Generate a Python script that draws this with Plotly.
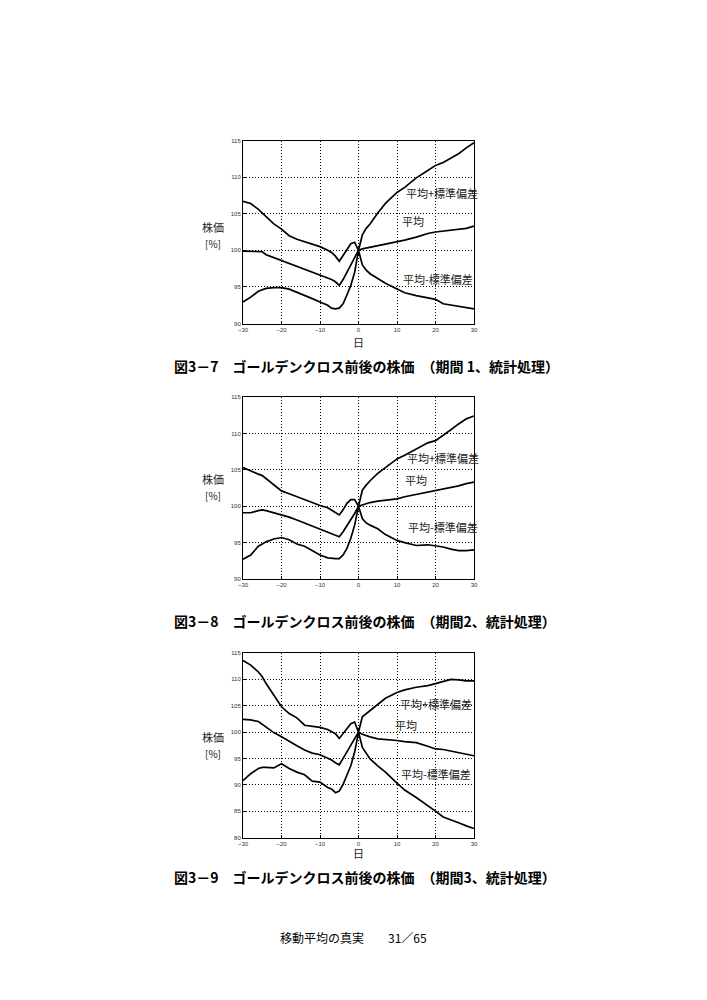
import plotly.graph_objects as go

# Days relative to the golden cross
days = [-30, -28, -26, -25, -24, -22, -20, -18, -16, -14, -12, -10, -8, -7, -6, -5, -4, -3, -2, -1,
        0, 1, 2, 3, 5, 7, 10, 12, 15, 18, 20, 22, 24, 26, 28, 30]

# Period 1 (図3-7)
p1_plus = [106.7, 106.4, 105.6, 105.1, 104.5, 103.6, 102.9, 102.0, 101.5, 101.2, 100.9, 100.5, 100.0, 99.7, 99.2, 98.5, 99.3, 100.2, 100.9, 101.1,
           100.0, 102.1, 103.0, 103.6, 105.1, 106.4, 107.9, 108.6, 109.9, 110.9, 111.6, 112.0, 112.6, 113.2, 114.0, 114.7]
p1_mean = [99.9, 99.9, 99.9, 99.8, 99.4, 99.0, 98.7, 98.3, 97.9, 97.5, 97.0, 96.7, 96.2, 96.0, 95.7, 95.2, 96.0, 97.0, 98.0, 99.0,
           100.0, 100.2, 100.3, 100.4, 100.7, 100.9, 101.2, 101.4, 101.8, 102.3, 102.5, 102.6, 102.7, 102.8, 103.0, 103.3]
p1_minus = [92.95, 93.6, 94.4, 94.6, 94.8, 94.9, 94.9, 94.7, 94.3, 93.9, 93.4, 92.95, 92.5, 92.1, 92.0, 92.1, 92.7, 93.9, 95.2, 97.0,
            100.0, 98.0, 97.3, 96.8, 96.1, 95.5, 94.7, 94.2, 93.8, 93.5, 93.3, 92.7, 92.5, 92.4, 92.1, 92.0]

# Period 2 (図3-8)
p2_plus = [105.3, 104.8, 104.4, 104.2, 103.8, 102.9, 102.1, 101.7, 101.3, 100.8, 100.5, 100.1, 99.8, 99.5, 99.1, 98.8, 99.5, 100.4, 100.9, 100.9,
           100.0, 102.2, 102.9, 103.5, 104.5, 105.3, 106.5, 107.0, 107.9, 108.7, 109.0, 109.7, 110.5, 111.3, 112.0, 112.4]
p2_mean = [99.1, 99.1, 99.4, 99.5, 99.4, 99.1, 98.9, 98.5, 98.1, 97.7, 97.2, 96.8, 96.4, 96.2, 96.1, 95.8, 96.5, 97.3, 98.1, 99.0,
           100.0, 100.2, 100.4, 100.5, 100.7, 100.8, 101.0, 101.3, 101.6, 102.0, 102.2, 102.4, 102.6, 102.8, 103.1, 103.3]
p2_minus = [92.7, 93.3, 94.5, 94.8, 95.1, 95.5, 95.7, 95.4, 94.8, 94.5, 93.9, 93.3, 92.9, 92.8, 92.8, 92.8, 93.3, 94.2, 95.6, 97.4,
            100.0, 98.3, 97.7, 97.4, 96.9, 96.1, 95.3, 95.0, 94.6, 94.7, 94.6, 94.4, 94.1, 93.9, 93.9, 94.0]

# Period 3 (図3-9)
p3_plus = [113.6, 112.7, 111.4, 110.5, 109.2, 107.0, 104.8, 103.5, 102.7, 101.3, 101.1, 100.9, 100.5, 100.1, 99.7, 98.8, 99.7, 100.8, 101.6, 101.9,
           100.0, 102.9, 103.5, 104.1, 105.3, 106.4, 107.5, 108.0, 108.5, 108.8, 109.2, 109.6, 110.0, 109.9, 109.7, 109.7]
p3_mean = [102.4, 102.3, 102.0, 101.5, 100.9, 99.9, 99.1, 98.2, 97.4, 96.6, 96.0, 95.7, 95.1, 94.7, 94.2, 93.8, 95.0, 96.3, 97.5, 98.8,
           100.0, 99.6, 99.3, 99.1, 98.7, 98.6, 98.4, 98.2, 98.0, 97.3, 96.8, 96.7, 96.4, 96.1, 95.8, 95.5]
p3_minus = [90.8, 92.1, 93.1, 93.3, 93.3, 93.2, 94.0, 93.1, 92.4, 91.9, 90.7, 90.5, 89.5, 89.2, 88.5, 88.8, 90.1, 91.7, 93.6, 96.2,
            100.0, 97.1, 95.9, 94.9, 93.6, 92.4, 90.3, 89.0, 87.6, 86.1, 85.0, 83.9, 83.4, 82.8, 82.2, 81.7]

x_ticks = [-30, -20, -10, 0, 10, 20, 30]
label_plus = "平均+標準偏差"
label_mean = "平均"
label_minus = "平均-標準偏差"
captions = [
    "図3－7　ゴールデンクロス前後の株価　（期間 1、統計処理）",
    "図3－8　ゴールデンクロス前後の株価　（期間2、統計処理）",
    "図3－9　ゴールデンクロス前後の株価　（期間3、統計処理）",
]
footer = "移動平均の真実　　31／65"

W, H = 707, 1000
PAGE_OFFSET = 8  # the page body margin shifts the figure by this many pixels
jp_font = "Noto Sans CJK JP"


def px_x(p):
    return (p - PAGE_OFFSET) / W


def px_y(p):
    return 1 - (p - PAGE_OFFSET) / H


def note(x, y, text, size, color="#222222", xanchor="center"):
    return dict(x=px_x(x), y=px_y(y), xref="paper", yref="paper", text=text,
                xanchor=xanchor, yanchor="middle", showarrow=False,
                font=dict(family=jp_font, size=size, color=color))


# plot boxes in page pixels: (top, bottom) and y range
panels = [
    dict(top=140.5, bottom=323.5, yr=[90, 115], series=[p1_plus, p1_mean, p1_minus],
         labels=[(442, 193), (413, 221), (438, 279)], ylab=(227, 243), xlab=342, cap=366),
    dict(top=397, bottom=579, yr=[90, 115], series=[p2_plus, p2_mean, p2_minus],
         labels=[(443, 458), (416, 480), (443, 527)], ylab=(479, 495), xlab=None, cap=621),
    dict(top=653, bottom=837.5, yr=[80, 115], series=[p3_plus, p3_mean, p3_minus],
         labels=[(436, 704), (406, 725), (436, 774)], ylab=(737, 753), xlab=853, cap=877),
]
left_px, right_px = 243, 474

fig = go.Figure()
annotations = []
layout_axes = {}

for i, p in enumerate(panels, start=1):
    sfx = "" if i == 1 else str(i)
    for s in p["series"]:
        fig.add_trace(go.Scatter(
            x=days, y=s, mode="lines",
            line=dict(color="black", width=1.7),
            xaxis="x" + sfx, yaxis="y" + sfx,
            showlegend=False, hoverinfo="skip",
        ))
    axis_common = dict(
        showline=True, mirror=True, linecolor="black", linewidth=1,
        showgrid=True, gridcolor="black", gridwidth=1, griddash="1px,2px",
        zeroline=False, ticks="inside", ticklen=3, tickcolor="black",
        tickfont=dict(family="Liberation Sans", size=6, color="#333333"),
        automargin=False,
    )
    layout_axes["xaxis" + sfx] = dict(
        axis_common, domain=[px_x(left_px), px_x(right_px)], range=[-30, 30],
        tickvals=x_ticks, anchor="y" + sfx,
    )
    layout_axes["yaxis" + sfx] = dict(
        axis_common, domain=[px_y(p["bottom"]), px_y(p["top"])], range=p["yr"],
        tickvals=list(range(p["yr"][0], p["yr"][1] + 1, 5)), anchor="x" + sfx,
    )
    for text, (lx, ly) in zip([label_plus, label_mean, label_minus], p["labels"]):
        annotations.append(note(lx, ly, text, 11))
    annotations.append(note(213, p["ylab"][0], "株価", 11))
    annotations.append(note(213, p["ylab"][1], "[%]", 10))
    if p["xlab"] is not None:
        annotations.append(note(358, p["xlab"], "日", 11))
    annotations.append(note(172, p["cap"], "<b>" + captions[i - 1] + "</b>", 14,
                            color="black", xanchor="left"))

annotations.append(note(353, 937, footer, 12, color="black"))

fig.update_layout(
    width=W, height=H,
    margin=dict(l=0, r=0, t=0, b=0),
    paper_bgcolor="white", plot_bgcolor="white",
    annotations=annotations,
    **layout_axes,
)

fig.write_html("out.html")
